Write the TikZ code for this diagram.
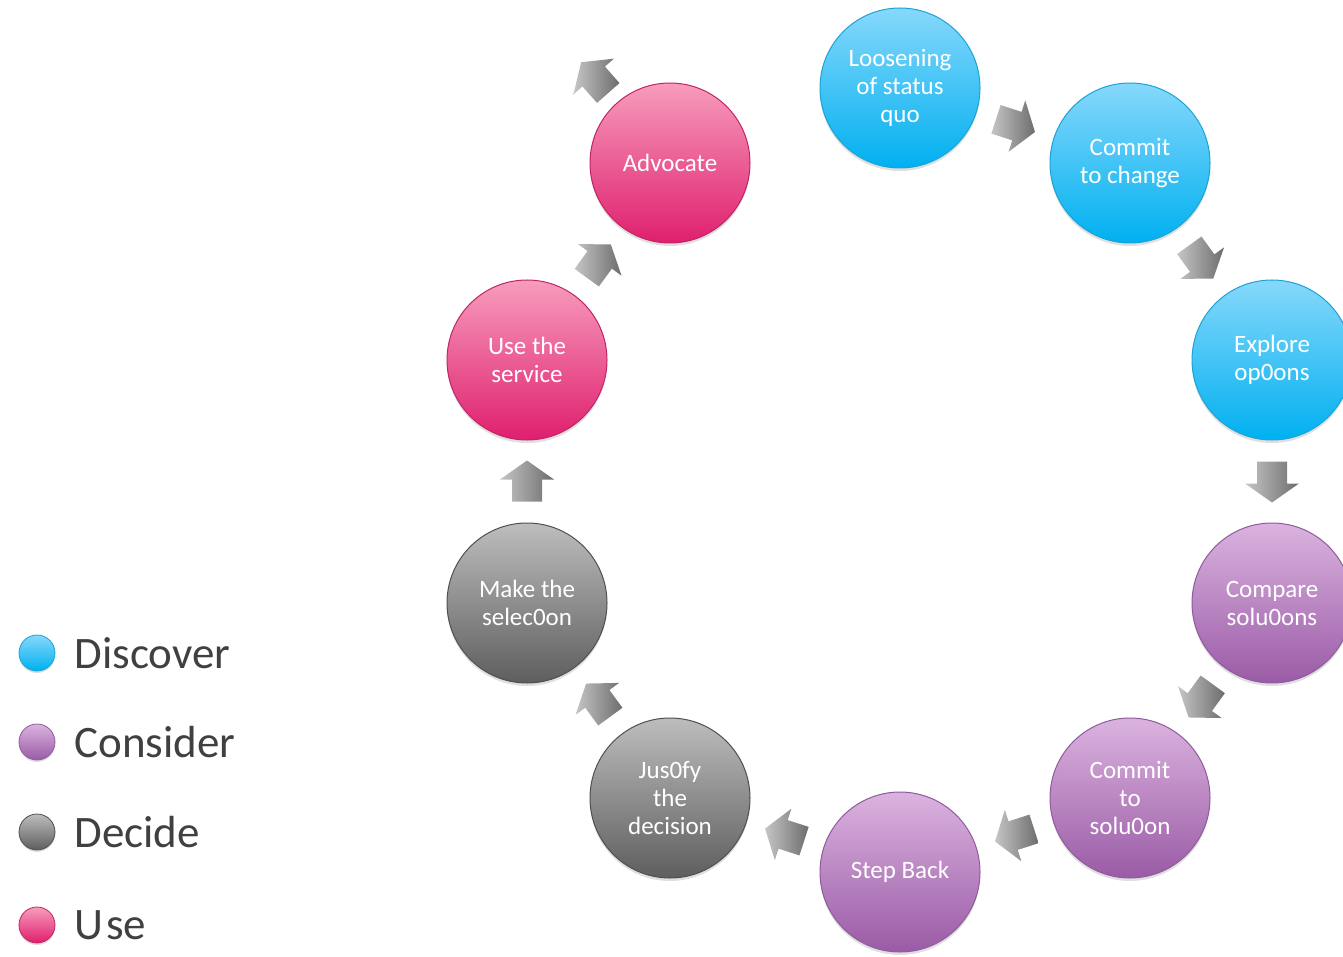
\documentclass[tikz,border=0pt]{standalone}
\usepackage{fontspec}
\setmainfont{Carlito}
\usetikzlibrary{calc,shadows}
\definecolor{discovertop}{HTML}{86D8FB}
\definecolor{discoverbot}{HTML}{00B0F0}
\definecolor{discoverline}{HTML}{1CA3D6}
\definecolor{considertop}{HTML}{DBB3DF}
\definecolor{considerbot}{HTML}{9A5BA6}
\definecolor{considerline}{HTML}{8E5C9C}
\definecolor{decidetop}{HTML}{BDBDBD}
\definecolor{decidebot}{HTML}{5E5E5E}
\definecolor{decideline}{HTML}{505050}
\definecolor{usetop}{HTML}{F79CBC}
\definecolor{usebot}{HTML}{DF1F6E}
\definecolor{useline}{HTML}{C22468}
\definecolor{legendtext}{HTML}{404040}
\tikzset{
  stage/.style={circle, minimum size=160pt, inner sep=0pt, align=center, text=white,
    font=\fontsize{25}{28}\selectfont, line width=1pt,
    drop shadow={opacity=0.25, shadow xshift=0pt, shadow yshift=-3pt}},
  discover/.style={stage, draw=discoverline, top color=discovertop, bottom color=discoverbot},
  consider/.style={stage, draw=considerline, top color=considertop, bottom color=considerbot},
  decide/.style={stage, draw=decideline, top color=decidetop, bottom color=decidebot},
  use/.style={stage, draw=useline, top color=usetop, bottom color=usebot},
  keydot/.style={circle, minimum size=36pt, inner sep=0pt, line width=0.8pt,
    drop shadow={opacity=0.25, shadow xshift=0pt, shadow yshift=-2pt}},
  keytext/.style={anchor=west, text=legendtext, font=\fontsize{45}{48}\selectfont},
  flowarrow/.pic={
    \shade[left color=gray!45, right color=gray!85!black]
      (-20pt,-15pt) -- (2pt,-15pt) -- (2pt,-27pt) -- (21pt,0pt)
      -- (2pt,27pt) -- (2pt,15pt) -- (-20pt,15pt) -- cycle;
  }
}
% block arrow half way between two nodes, pointing from #1 to #2
\newcommand\stepto[2]{%
  \path let \p1=($(#2)-(#1)$), \p2=($(#1)!0.5!(#2)$), \n1={atan2(\y1,\x1)}
    in (\p2) pic[rotate=\n1]{flowarrow};
}

\begin{document}
\begin{tikzpicture}[x=1pt, y=-1pt]
  \useasboundingbox (0,0) rectangle (1343,957);

  % cycle of stages
  \node[discover] (loosen)  at (900,88)   {Loosening\\of status\\quo};
  \node[discover] (commit)  at (1130,163) {Commit\\to change};
  \node[discover] (explore) at (1272,360) {Explore\\op0ons};
  \node[consider] (compare) at (1272,603) {Compare\\solu0ons};
  \node[consider] (commitsol) at (1130,798) {Commit\\to\\solu0on};
  \node[consider] (stepback) at (900,872) {Step Back};
  \node[decide]   (justify) at (670,798)  {Jus0fy\\the\\decision};
  \node[decide]   (select)  at (527,603)  {Make the\\selec0on};
  \node[use]      (useit)   at (527,360)  {Use the\\service};
  \node[use]      (advocate) at (670,163) {Advocate};
  \coordinate (onward) at (520,-7);

  % arrows between stages
  \stepto{loosen}{commit}
  \stepto{commit}{explore}
  \stepto{explore}{compare}
  \stepto{compare}{commitsol}
  \stepto{commitsol}{stepback}
  \stepto{stepback}{justify}
  \stepto{justify}{select}
  \stepto{select}{useit}
  \stepto{useit}{advocate}
  \stepto{advocate}{onward}

  % legend
  \node[keydot, draw=discoverline, top color=discovertop, bottom color=discoverbot] (kdiscover) at (37,653) {};
  \node[keydot, draw=considerline, top color=considertop, bottom color=considerbot] (kconsider) at (37,742) {};
  \node[keydot, draw=decideline, top color=decidetop, bottom color=decidebot] (kdecide) at (37,832) {};
  \node[keydot, draw=useline, top color=usetop, bottom color=usebot] (kuse) at (37,925) {};
  \node[keytext] (ldiscover) at (71,653) {Discover};
  \node[keytext] (lconsider) at (71,742) {Consider};
  \node[keytext] (ldecide) at (71,832) {Decide};
  \node[keytext] (luse) at (71,925) {U\kern3pt se};
\end{tikzpicture}
\end{document}
